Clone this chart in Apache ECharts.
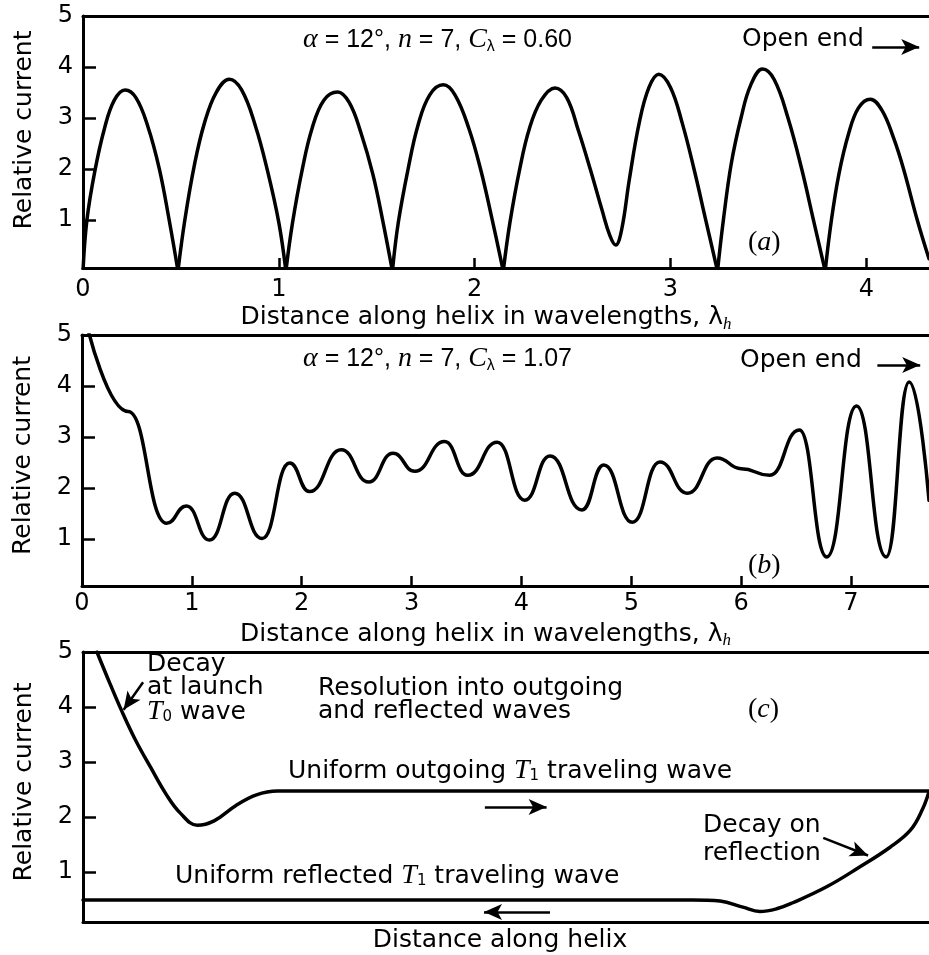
<!DOCTYPE html>
<html>
<head>
<meta charset="utf-8">
<script src="https://cdn.jsdelivr.net/npm/echarts@6/dist/echarts.min.js"></script>
<style>
  html, body { margin: 0; padding: 0; background: #fff; }
  #chart { width: 929px; height: 955px; }
</style>
</head>
<body>
<div id="chart"></div>
<script>
// (a) C_lambda = 0.60 -- current goes to zero between arches (cusps at y = 0)
const curveA = [
  [0, 0], [0.02, 1.0], [0.06, 1.95], [0.11, 2.8], [0.16, 3.35], [0.215, 3.55], [0.27, 3.4], [0.33, 2.85], [0.39, 2.0], [0.44, 1.0], [0.485, 0],
  [0.52, 1.0], [0.57, 2.1], [0.62, 2.9], [0.68, 3.5], [0.747, 3.76], [0.81, 3.55], [0.88, 2.85], [0.94, 2.0], [1.0, 0.95], [1.036, 0],
  [1.07, 0.95], [1.12, 2.0], [1.17, 2.8], [1.23, 3.35], [1.30, 3.51], [1.36, 3.3], [1.42, 2.7], [1.48, 1.9], [1.53, 1.0], [1.58, 0],
  [1.61, 0.95], [1.66, 2.0], [1.71, 2.85], [1.77, 3.45], [1.84, 3.65], [1.90, 3.45], [1.97, 2.8], [2.03, 2.0], [2.09, 1.0], [2.146, 0],
  [2.18, 0.95], [2.23, 2.0], [2.28, 2.8], [2.34, 3.35], [2.41, 3.59], [2.47, 3.4], [2.53, 2.75], [2.59, 2.0], [2.65, 1.2], [2.69, 0.7], [2.72, 0.51],
  [2.75, 0.8], [2.79, 1.8], [2.84, 2.9], [2.89, 3.6], [2.94, 3.86], [3.0, 3.6], [3.06, 2.9], [3.12, 2.0], [3.18, 1.0], [3.24, 0],
  [3.27, 1.0], [3.31, 2.1], [3.36, 3.0], [3.41, 3.65], [3.47, 3.96], [3.53, 3.75], [3.60, 3.0], [3.67, 2.0], [3.73, 1.0], [3.79, 0],
  [3.82, 0.95], [3.86, 1.9], [3.91, 2.7], [3.96, 3.2], [4.02, 3.37], [4.08, 3.15], [4.14, 2.6], [4.19, 2.0], [4.26, 1.0], [4.32, 0.24]
];

// (b) C_lambda = 1.07 -- maxima / minima of the standing wave pattern
const curveB = [
  [0.05, 5.15], [0.42, 3.5], [0.77, 1.31], [0.95, 1.65], [1.16, 0.98], [1.39, 1.90], [1.64, 1.01],
  [1.89, 2.49], [2.07, 1.93], [2.36, 2.75], [2.61, 2.12], [2.83, 2.68], [3.03, 2.33], [3.30, 2.91],
  [3.51, 2.25], [3.78, 2.90], [4.03, 1.76], [4.26, 2.63], [4.55, 1.57], [4.75, 2.45], [5.01, 1.33],
  [5.26, 2.51], [5.51, 1.90], [5.78, 2.59], [6.0, 2.38], [6.26, 2.25], [6.53, 3.14], [6.78, 0.65],
  [7.05, 3.61], [7.32, 0.65], [7.53, 4.08], [7.71, 1.76]
];

// (c) schematic, arbitrary distance units 0..10
const outgoingC = [
  [0.165, 5.0], [0.32, 4.42], [0.46, 3.92], [0.62, 3.4], [0.8, 2.9], [0.98, 2.42], [1.15, 2.07],
  [1.35, 1.85], [1.55, 1.93], [1.8, 2.2], [2.05, 2.4], [2.3, 2.47], [3.0, 2.47], [10, 2.47]
];
const reflectedC = [
  [0, 0.49], [3, 0.49], [7.2, 0.49], [7.53, 0.47], [7.8, 0.36], [8.0, 0.28], [8.2, 0.33], [8.39, 0.44],
  [8.79, 0.73], [9.18, 1.09], [9.54, 1.45], [9.78, 1.76], [9.92, 2.13], [10, 2.46]
];

const yTicks = [1, 2, 3, 4, 5];
const xTicksA = [0, 1, 2, 3, 4];
const xTicksB = [0, 1, 2, 3, 4, 5, 6, 7];

// annotation arrows, [from, to] in data units
const arrowsA = [[[4.03, 4.39], [4.27, 4.39]]];
const arrowsB = [[[7.24, 4.41], [7.63, 4.41]]];
const arrowsC = [
  [[0.71, 4.45], [0.48, 3.95]],
  [[4.75, 2.18], [5.48, 2.18]],
  [[8.75, 1.62], [9.28, 1.3]],
  [[5.52, 0.27], [4.74, 0.27]]
];

const FONT = 'DejaVu Sans';
const MATH = 'Liberation Sans';
const SERIF = 'Liberation Serif';
const black = '#000';

const grids = [
  { left: 83, top: 16, width: 846, height: 252 },
  { left: 82, top: 335, width: 847, height: 251 },
  { left: 83, top: 652, width: 846, height: 270 }
];

const xName = 'Distance along helix in wavelengths, λ{h|h}';
const nameRich = {
  h: { fontFamily: SERIF, fontStyle: 'italic', fontSize: 17, lineHeight: 17, verticalAlign: 'bottom' }
};

function bottomAxis(g, max, ticks, name, nameGap, margin, pad) {
  const hasTicks = ticks.length > 0;
  return {
    type: 'value', gridIndex: g, position: 'bottom', min: 0, max: max,
    axisLine: { show: true, onZero: false, lineStyle: { color: black, width: 3 } },
    axisTick: { show: hasTicks, inside: true, length: 10, customValues: ticks, lineStyle: { color: black, width: 2.5 } },
    axisLabel: { show: hasTicks, customValues: ticks, margin: margin, color: black, fontFamily: FONT, fontSize: 24 },
    splitLine: { show: false },
    name: name, nameLocation: 'middle', nameGap: nameGap,
    nameTextStyle: { color: black, fontFamily: FONT, fontSize: 25, lineHeight: 30, padding: pad, rich: nameRich }
  };
}

function topAxis(g, max) {
  return {
    type: 'value', gridIndex: g, position: 'top', min: 0, max: max,
    axisLine: { show: true, onZero: false, lineStyle: { color: black, width: 3 } },
    axisTick: { show: false }, axisLabel: { show: false }, splitLine: { show: false }
  };
}

function leftAxis(g, min, pad) {
  return {
    type: 'value', gridIndex: g, min: min, max: 5,
    axisLine: { show: true, onZero: false, lineStyle: { color: black, width: 3 } },
    axisTick: { show: true, inside: true, length: 13, customValues: yTicks, lineStyle: { color: black, width: 2.5 } },
    axisLabel: { customValues: yTicks, margin: 10, color: black, fontFamily: FONT, fontSize: 24 },
    splitLine: { show: false },
    name: 'Relative current', nameLocation: 'middle', nameGap: 46,
    nameTextStyle: { color: black, fontFamily: FONT, fontSize: 25, padding: pad }
  };
}

function arrowMarks(list) {
  return {
    silent: true,
    symbol: ['none', 'arrow'],
    symbolSize: [12, 18],
    label: { show: false },
    lineStyle: { color: black, width: 2.5, type: 'solid' },
    emphasis: { disabled: true },
    data: list.map(a => [{ coord: a[0] }, { coord: a[1] }])
  };
}

// split the (a) curve at the nulls so each arch keeps a sharp cusp
function splitAtNulls(points) {
  const segs = [];
  let cur = [points[0]];
  for (let i = 1; i < points.length; i++) {
    cur.push(points[i]);
    if (points[i][1] === 0 && i < points.length - 1) {
      segs.push(cur);
      cur = [points[i]];
    }
  }
  segs.push(cur);
  return segs;
}

const curveStyle = { color: black, width: 3.5, cap: 'round', join: 'round' };

const series = [];
splitAtNulls(curveA).forEach((seg, i) => {
  series.push({
    type: 'line', xAxisIndex: 0, yAxisIndex: 0, data: seg,
    smooth: 0.4, showSymbol: false, lineStyle: curveStyle,
    markLine: i === 0 ? arrowMarks(arrowsA) : undefined
  });
});
series.push({
  type: 'line', xAxisIndex: 2, yAxisIndex: 1, data: curveB,
  smooth: 0.5, smoothMonotone: 'x', showSymbol: false, lineStyle: curveStyle,
  markLine: arrowMarks(arrowsB)
});
series.push({
  type: 'line', xAxisIndex: 4, yAxisIndex: 2, data: outgoingC,
  smooth: 0.4, showSymbol: false, lineStyle: curveStyle,
  markLine: arrowMarks(arrowsC)
});
series.push({
  type: 'line', xAxisIndex: 4, yAxisIndex: 2, data: reflectedC,
  smooth: 0.4, showSymbol: false, lineStyle: curveStyle
});

const mathRich = {
  i: { fontFamily: SERIF, fontStyle: 'italic', fontSize: 28, lineHeight: 30, fill: black },
  s: { fontFamily: MATH, fontSize: 16, lineHeight: 16, verticalAlign: 'bottom', fill: black }
};
const tRich = {
  t: { fontFamily: SERIF, fontStyle: 'italic', fontSize: 28, lineHeight: 26, fill: black },
  s: { fontFamily: FONT, fontSize: 15, lineHeight: 15, verticalAlign: 'bottom', fill: black }
};
const tagRich = { i: { fontFamily: SERIF, fontStyle: 'italic', fontSize: 28 } };

function note(left, top, text, extra) {
  return {
    type: 'text', left: left, top: top, silent: true,
    style: Object.assign({ text: text, fill: black, fontFamily: FONT, fontSize: 25 }, extra || {})
  };
}

const graphic = [
  note(303, 25, '{i|α} = 12°, {i|n} = 7, {i|C}{s|λ} = 0.60', { fontFamily: MATH, fontSize: 25, lineHeight: 30, rich: mathRich }),
  note(742, 27, 'Open end'),
  note(748, 229, '({i|a})', { fontFamily: SERIF, fontSize: 28, rich: tagRich }),
  note(303, 344, '{i|α} = 12°, {i|n} = 7, {i|C}{s|λ} = 1.07', { fontFamily: MATH, fontSize: 25, lineHeight: 30, rich: mathRich }),
  note(740, 348, 'Open end'),
  note(748, 552, '({i|b})', { fontFamily: SERIF, fontSize: 28, rich: tagRich }),
  note(147, 652, 'Decay\nat launch\n{t|T}{s|0} wave', { lineHeight: 23, rich: tRich }),
  note(318, 676, 'Resolution into outgoing\nand reflected waves', { lineHeight: 23 }),
  note(748, 696, '({i|c})', { fontFamily: SERIF, fontSize: 28, rich: tagRich }),
  note(288, 757, 'Uniform outgoing {t|T}{s|1} traveling wave', { lineHeight: 26, rich: tRich }),
  note(703, 811, 'Decay on\nreflection', { lineHeight: 28 }),
  note(175, 862, 'Uniform reflected {t|T}{s|1} traveling wave', { lineHeight: 26, rich: tRich })
];

const option = {
  animation: false,
  backgroundColor: '#fff',
  grid: grids.map(g => Object.assign({ containLabel: false, outerBoundsMode: 'none', show: false }, g)),
  xAxis: [
    bottomAxis(0, 4.32, xTicksA, xName, 30, 10, [0, 40, 0, 0]),
    topAxis(0, 4.32),
    bottomAxis(1, 7.71, xTicksB, xName, 33, 6, [0, 40, 0, 0]),
    topAxis(1, 7.71),
    bottomAxis(2, 10, [], 'Distance along helix', 3, 0, [0, 12, 0, 0]),
    topAxis(2, 10)
  ],
  yAxis: [
    leftAxis(0, 0.06, [0, 0, 0, 24]),
    leftAxis(1, 0.08, [0, 0, 0, 10]),
    leftAxis(2, 0.09, [0, 0, 0, 10])
  ],
  series: series,
  graphic: graphic
};

const chart = echarts.init(document.getElementById('chart'));
chart.setOption(option);
</script>
</body>
</html>
